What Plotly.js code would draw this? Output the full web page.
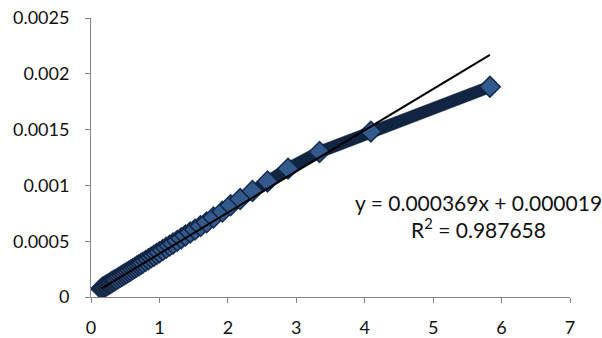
<!DOCTYPE html>
<html>
<head>
<meta charset="utf-8">
<script src="https://cdn.plot.ly/plotly-3.0.1.min.js"></script>
<style>html,body{margin:0;padding:0;background:#fff;}#chart{width:602px;height:338px;}</style>
</head>
<body>
<div id="chart"></div>
<script>
// Data
const xValues = [0.15,0.17,0.19,0.21,0.23,0.25,0.27,0.29,0.31,0.33,0.35,0.37,0.40,0.43,0.46,0.49,0.52,0.55,0.58,0.61,0.64,0.67,0.70,0.73,0.76,0.80,0.84,0.88,0.92,0.96,1.00,1.05,1.10,1.15,1.20,1.26,1.32,1.38,1.45,1.52,1.60,1.69,1.79,1.92,2.04,2.18,2.36,2.58,2.88,3.34,4.09,5.83];
const yValues = [0.000074,0.000083,0.000090,0.000098,0.000105,0.000113,0.000120,0.000128,0.000136,0.000143,0.000151,0.000158,0.000170,0.000181,0.000193,0.000204,0.000215,0.000227,0.000238,0.000250,0.000261,0.000273,0.000285,0.000296,0.000308,0.000324,0.000339,0.000355,0.000370,0.000386,0.000401,0.000421,0.000441,0.000460,0.000480,0.000503,0.000527,0.000551,0.000578,0.000604,0.000635,0.000669,0.000712,0.000765,0.000822,0.000878,0.000950,0.001035,0.001150,0.001300,0.001482,0.001884];
const trendSlope = 0.000369;
const trendIntercept = 0.000019;
const equationText = "y = 0.000369x + 0.000019<br>R<sup>2</sup> = 0.987658";
const xTickVals = [0,1,2,3,4,5,6,7];
const yTickVals = [0,0.0005,0.001,0.0015,0.002,0.0025];
const yTickText = ["0","0.0005","0.001","0.0015","0.002","0.0025"];

const xMin = Math.min(...xValues), xMax = Math.max(...xValues);
const trendX = [xMin, xMax];
const trendY = trendX.map(v => trendSlope * v + trendIntercept);

const W = 602, H = 338;
const mL = 91, mR = 29, mT = 18, mB = 37;
const pw = W - mL - mR, ph = H - mT - mB;
const sx = 3 / pw, sy = 4 / ph;

const font = {family: "Lato, 'Open Sans', sans-serif", size: 18, color: "#111"};
const axisCommon = {
  showgrid: false, zeroline: false, showline: true,
  linecolor: "#868686", linewidth: 1,
  ticks: "outside", ticklen: 5, tickcolor: "#868686", tickwidth: 1,
  tickfont: font, fixedrange: true
};

const traces = [
  { // soft shadow
    x: xValues, y: yValues, xaxis: "x2", yaxis: "y2",
    type: "scatter", mode: "lines+markers", opacity: 0.35,
    line: {color: "#000", width: 13},
    marker: {symbol: "diamond", size: 16, color: "#000"},
    hoverinfo: "skip", showlegend: false
  },
  {
    x: xValues, y: yValues, type: "scatter", mode: "lines+markers",
    line: {color: "#1B3A66", width: 12},
    marker: {symbol: "diamond", size: 16, color: "#4F8BD8", line: {color: "#1F3864", width: 1.5}},
    showlegend: false
  },
  {
    x: trendX, y: trendY, type: "scatter", mode: "lines",
    line: {color: "#000", width: 2}, showlegend: false
  }
];

const layout = {
  width: W, height: H,
  margin: {l: mL, r: mR, t: mT, b: mB, pad: 0},
  paper_bgcolor: "#fff", plot_bgcolor: "#fff",
  showlegend: false,
  xaxis: Object.assign({}, axisCommon, {range: [0, 7], domain: [0, 1 - sx], tickvals: xTickVals, ticktext: xTickVals.map(String), ticklabelstandoff: 9}),
  yaxis: Object.assign({}, axisCommon, {range: [0, 0.0025], domain: [sy, 1], tickvals: yTickVals, ticktext: yTickText, ticklabelstandoff: 12}),
  xaxis2: {range: [0, 7], domain: [sx, 1], overlaying: "x", visible: false, anchor: "y2", fixedrange: true},
  yaxis2: {range: [0, 0.0025], domain: [0, 1 - sy], overlaying: "y", visible: false, anchor: "x2", fixedrange: true},
  annotations: [
    {text: equationText, xref: "paper", yref: "paper", x: 0.803, y: 0.302, xanchor: "center", yanchor: "middle", align: "center", showarrow: false, font: {family: font.family, size: 21, color: "#111"}}
  ]
};

Plotly.newPlot("chart", traces, layout, {staticPlot: true, displayModeBar: false});
</script>
</body>
</html>
